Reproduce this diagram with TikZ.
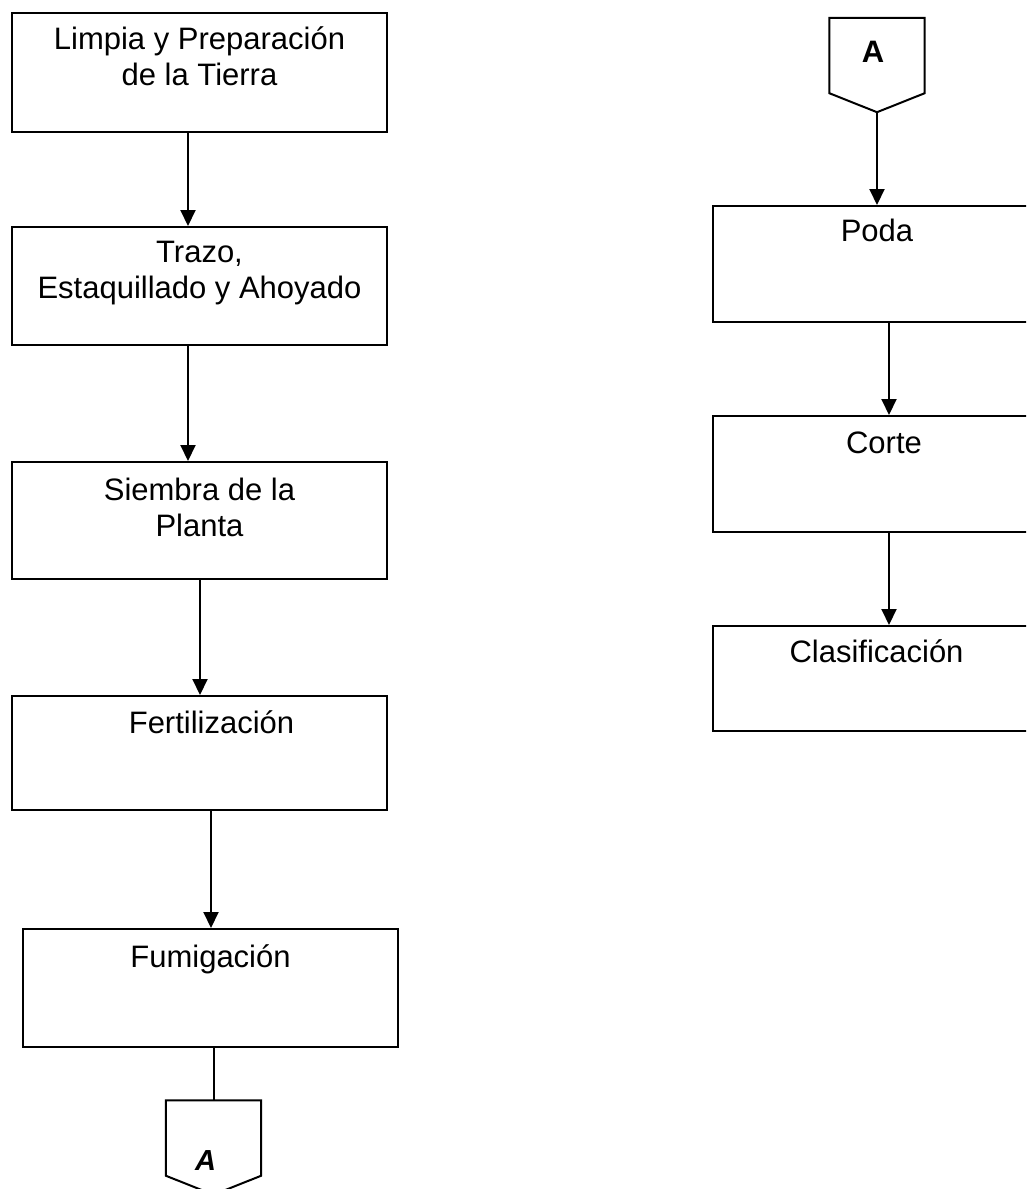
\documentclass[tikz,border=0pt]{standalone}
\usepackage{fontspec}
\setmainfont{Liberation Sans}
\usetikzlibrary{arrows.meta}
\tikzset{
  procbox/.style={draw, line width=2pt, minimum width=375pt, inner sep=0pt},
  proctext/.style={font=\fontsize{31}{36}\selectfont, align=center, anchor=north, inner sep=0pt},
  flow/.style={line width=2pt, -{Triangle[length=16pt,width=15pt]}},
  connbox/.style={minimum width=95pt, minimum height=75pt, inner sep=0pt},
  connline/.style={line width=2pt, line join=miter},
}
\begin{document}
\begin{tikzpicture}[x=1pt, y=-1pt]
\fill[white] (0,0) rectangle (1026,1189);
\useasboundingbox (0,0) rectangle (1026,1189);
\clip (0,0) rectangle (1026,1189);
% left column
\node[procbox, minimum height=119pt] (limpia) at (199.5,72.5) {};
\node[proctext] (limpiatxt) at ([yshift=-12.5pt]limpia.north) {\strut Limpia y Preparación\\ de la Tierra};
\node[procbox, minimum height=118pt] (trazo) at (199.5,286) {};
\node[proctext] (trazotxt) at ([yshift=-11.5pt]trazo.north) {\strut Trazo,\\ Estaquillado y Ahoyado};
\node[procbox, minimum height=117pt] (siembra) at (199.5,520.5) {};
\node[proctext] (siembratxt) at ([yshift=-14.5pt]siembra.north) {\strut Siembra de la\\ Planta};
\node[procbox, minimum height=114pt] (fertil) at (199.5,753) {};
\node[proctext] (fertiltxt) at ([xshift=12pt, yshift=-13.5pt]fertil.north) {\strut Fertilización};
\node[procbox, minimum height=118pt] (fumig) at (210.5,988) {};
\node[proctext] (fumigtxt) at ([yshift=-14.5pt]fumig.north) {\strut Fumigación};
\node[connbox] (outA) at (213.5,1138) {};
\node[font=\fontsize{29}{34}\selectfont\bfseries\itshape, anchor=base, inner sep=0pt] (outAtxt) at ([xshift=-8pt, yshift=5pt]outA.south) {A};
\draw[connline] (outA.north west) -- (outA.north east) -- (outA.south east) -- ([yshift=-19pt]outA.south) -- (outA.south west) -- cycle;

\draw[flow] (limpia.south -| 188,0) -- (trazo.north -| 188,0);
\draw[flow] (trazo.south -| 188,0) -- (siembra.north -| 188,0);
\draw[flow] (siembra.south -| 200,0) -- (fertil.north -| 200,0);
\draw[flow] (fertil.south -| 211,0) -- (fumig.north -| 211,0);
\draw[connline] (fumig.south -| outA.north) -- (outA.north);

% right column
\node[connbox] (inA) at (877,55.5) {};
\node[font=\fontsize{31}{36}\selectfont\bfseries, anchor=base, inner sep=0pt] (inAtxt) at ([xshift=-4pt, yshift=30.5pt]inA.south) {A};
\draw[connline] (inA.north west) -- (inA.north east) -- (inA.south east) -- ([yshift=-19pt]inA.south) coordinate (inAtip) -- (inA.south west) -- cycle;
\node[procbox, minimum width=332pt, minimum height=116pt] (poda) at (879,264) {};
\node[proctext] (podatxt) at ([xshift=-2pt, yshift=-11.5pt]poda.north) {\strut Poda};
\node[procbox, minimum width=332pt, minimum height=116pt] (corte) at (879,474) {};
\node[proctext] (cortetxt) at ([xshift=5pt, yshift=-13.5pt]corte.north) {\strut Corte};
\node[procbox, minimum width=332pt, minimum height=105pt] (clasif) at (879,678.5) {};
\node[proctext] (clasiftxt) at ([xshift=-2.5pt, yshift=-12.5pt]clasif.north) {\strut Clasificación};

\draw[flow] (inAtip) -- (inAtip |- poda.north);
\draw[flow] (poda.south -| 889,0) -- (corte.north -| 889,0);
\draw[flow] (corte.south -| 889,0) -- (clasif.north -| 889,0);
\end{tikzpicture}
\end{document}
